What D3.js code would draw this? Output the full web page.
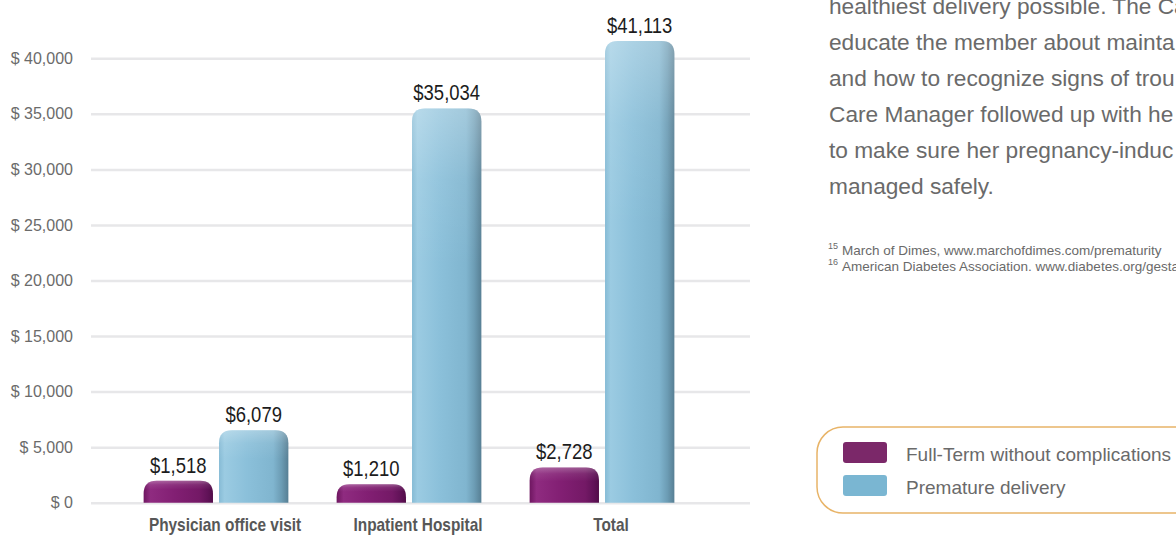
<!DOCTYPE html>
<html>
<head>
<meta charset="utf-8">
<script src="https://cdn.jsdelivr.net/npm/d3@7"></script>
<style>
  html, body { margin: 0; padding: 0; background: #fff; }
  svg { display: block; }
</style>
</head>
<body>
<svg id="chart" width="1176" height="536"></svg>
<script>
// ---- data ----
const categories = ["Physician office visit", "Inpatient Hospital", "Total"];
const seriesNames = ["Full-Term without complications", "Premature delivery"];
const fullTerm = [1518, 1210, 2728];
const premature = [6079, 35034, 41113];
const yTickValues = [0, 5000, 10000, 15000, 20000, 25000, 30000, 35000, 40000];
// paragraph text as visible in the (cropped) reference
const paragraphLines = [
  "healthiest delivery possible. The Ca",
  "educate the member about mainta",
  "and how to recognize signs of trou",
  "Care Manager followed up with he",
  "to make sure her pregnancy-induc",
  "managed safely."
];
const footnoteNums = ["15", "16"];
const footnoteTexts = [
  "March of Dimes, www.marchofdimes.com/prematurity",
  "American Diabetes Association. www.diabetes.org/gesta"
];

// ---- setup ----
const svg = d3.select("#chart");
const W = 1176, H = 536;
svg.append("rect").attr("width", W).attr("height", H).attr("fill", "#fff");

const gridLeft = 91, gridRight = 750;
const y = d3.scaleLinear().domain([0, 40000]).range([502.7, 58.3]);
const x0 = d3.scaleBand().domain(categories).range([119.5, 698.5]).paddingInner(0.25).paddingOuter(0.125);
const keys = ["full", "prem"];
const x1 = d3.scaleBand().domain(keys).range([0, x0.bandwidth()]).paddingInner(0.08);

const rows = categories.map((c, i) => ({ cat: c, full: fullTerm[i], prem: premature[i] }));

// ---- gradients ----
const defs = svg.append("defs");
function hGrad(id, stops) {
  const g = defs.append("linearGradient").attr("id", id).attr("x1", "0").attr("x2", "1").attr("y1", "0").attr("y2", "0");
  stops.forEach(s => g.append("stop").attr("offset", s[0]).attr("stop-color", s[1]));
}
hGrad("gBlue", [["0%", "#86bbd5"], ["8%", "#9bcbe2"], ["40%", "#8bc0da"], ["78%", "#80b5cf"], ["90%", "#6c9cb4"], ["100%", "#577f94"]]);
hGrad("gPurple", [["0%", "#6e1660"], ["10%", "#8f2b80"], ["45%", "#821f73"], ["80%", "#741966"], ["92%", "#611258"], ["100%", "#520d49"]]);
const vg = defs.append("linearGradient").attr("id", "gTop").attr("x1", "0").attr("x2", "0").attr("y1", "0").attr("y2", "1");
vg.append("stop").attr("offset", "0%").attr("stop-color", "#fff").attr("stop-opacity", 0.28);
vg.append("stop").attr("offset", "18%").attr("stop-color", "#fff").attr("stop-opacity", 0.08);
vg.append("stop").attr("offset", "40%").attr("stop-color", "#fff").attr("stop-opacity", 0);

// ---- grid + y axis ----
const yAxis = d3.axisLeft(y).tickValues(yTickValues)
  .tickSize(-(gridRight - gridLeft)).tickPadding(18)
  .tickFormat(d => "$ " + d3.format(",")(d));
const gy = svg.append("g").attr("transform", `translate(${gridLeft},0)`).call(yAxis);
gy.select(".domain").remove();
gy.selectAll(".tick line").attr("stroke", "#e7e7e9").attr("stroke-width", 2.5);
gy.selectAll(".tick text")
  .attr("fill", "#6b6b6b")
  .style("font-family", "'Liberation Sans', Arial, sans-serif")
  .style("font-size", "16px");

// ---- bars ----
const cap = 5;
function barPath(x, w, top, base, r) {
  r = Math.min(r, base - top, w / 2);
  return `M${x},${base}V${top + r}Q${x},${top} ${x + r},${top}H${x + w - r}Q${x + w},${top} ${x + w},${top + r}V${base}Z`;
}
const groups = svg.append("g").selectAll("g").data(rows).join("g")
  .attr("transform", d => `translate(${x0(d.cat)},0)`);

const barData = d => keys.map(k => ({ key: k, value: d[k] }));
const bars = groups.selectAll("g.bar").data(barData).join("g").attr("class", "bar");
bars.append("path")
  .attr("d", d => barPath(x1(d.key), x1.bandwidth(), y(d.value) - cap, y(0), 13))
  .attr("fill", d => d.key === "full" ? "url(#gPurple)" : "url(#gBlue)");
bars.append("path")
  .attr("d", d => barPath(x1(d.key), x1.bandwidth(), y(d.value) - cap, y(0), 13))
  .attr("fill", "url(#gTop)");
bars.append("text")
  .attr("transform", d => `translate(${x1(d.key) + x1.bandwidth() / 2},${y(d.value) - cap - 8}) scale(0.84,1)`)
  .attr("text-anchor", "middle")
  .attr("fill", "#1c1c1c")
  .style("font-family", "'Liberation Sans', Arial, sans-serif")
  .style("font-size", "22px")
  .text(d => "$" + d3.format(",")(d.value));

// ---- x labels ----
svg.append("g").selectAll("text").data(categories).join("text")
  .attr("transform", d => `translate(${x0(d) + x0.bandwidth() / 2 + 9},531) scale(0.88,1)`)
  .attr("text-anchor", "middle")
  .attr("fill", "#575757")
  .style("font-family", "'Liberation Sans', Arial, sans-serif")
  .style("font-weight", "bold")
  .style("font-size", "17.5px")
  .text(d => d);

// ---- paragraph ----
svg.append("g").selectAll("text").data(paragraphLines).join("text")
  .attr("x", 829)
  .attr("y", (d, i) => 14 + i * 36)
  .attr("fill", "#6a6a6a")
  .style("font-family", "'Liberation Sans', Arial, sans-serif")
  .style("font-size", "22.7px")
  .text(d => d);

// ---- footnotes ----
const fn = svg.append("g").selectAll("g").data(footnoteTexts).join("g");
fn.append("text").attr("x", 828).attr("y", (d, i) => 249 + i * 16)
  .attr("fill", "#6a6a6a").style("font-family", "'Liberation Sans', Arial, sans-serif").style("font-size", "9px")
  .text((d, i) => footnoteNums[i]);
fn.append("text").attr("x", 842).attr("y", (d, i) => 255 + i * 16)
  .attr("fill", "#6a6a6a").style("font-family", "'Liberation Sans', Arial, sans-serif").style("font-size", "13.5px")
  .text(d => d);

// ---- legend ----
const legendColors = ["#7b2869", "#7ab6d2"];
const lg = svg.append("g");
lg.append("rect").attr("x", 817).attr("y", 427).attr("width", 420).attr("height", 86).attr("rx", 26)
  .attr("fill", "none").attr("stroke", "#e8b468").attr("stroke-width", 1.5);
const li = lg.selectAll("g").data(seriesNames).join("g")
  .attr("transform", (d, i) => `translate(0,${i * 33})`);
li.append("rect").attr("x", 843).attr("y", 442).attr("width", 44).attr("height", 21).attr("rx", 3)
  .attr("fill", (d, i) => legendColors[i]);
li.append("text").attr("x", 906).attr("y", 461)
  .attr("fill", "#6a6a6a").style("font-family", "'Liberation Sans', Arial, sans-serif").style("font-size", "19px")
  .text(d => d);
</script>
</body>
</html>
